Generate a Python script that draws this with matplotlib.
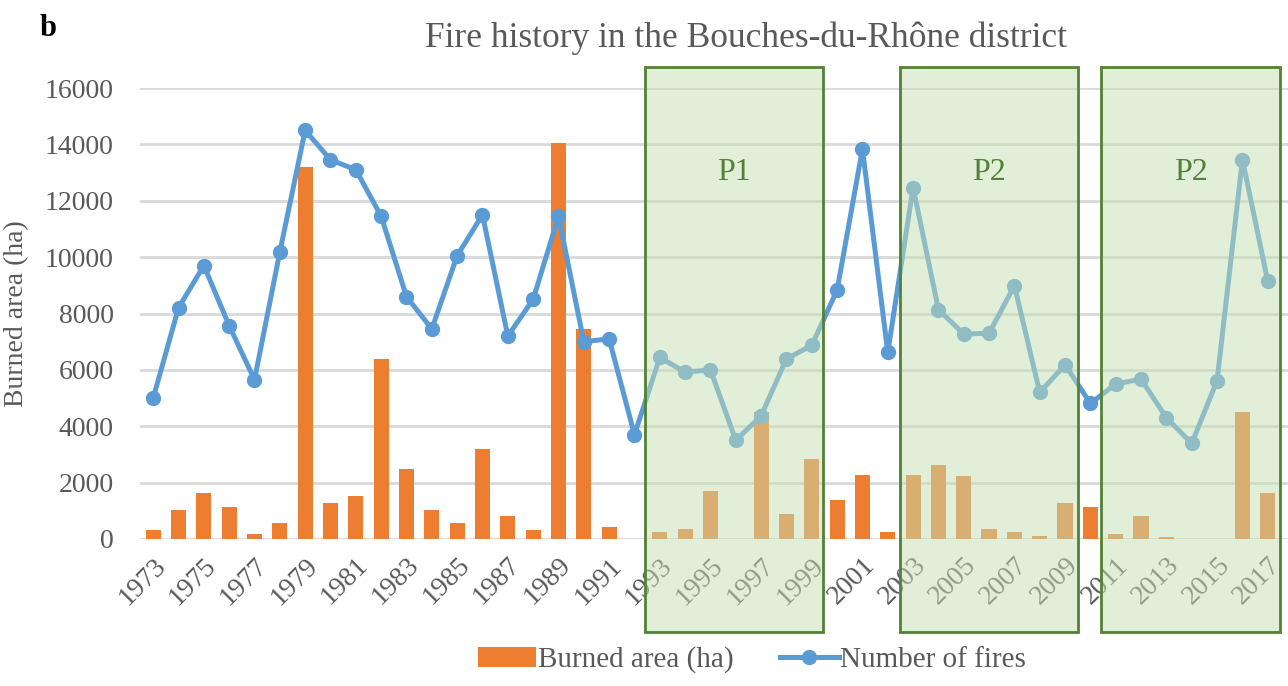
import numpy as np
import matplotlib
matplotlib.use("Agg")
import matplotlib.pyplot as plt
from matplotlib.patches import Rectangle
from matplotlib.lines import Line2D
from matplotlib.patches import Patch

years = list(range(1973, 2018))

burned_area = [
    320, 1030, 1640, 1130, 180, 570, 13180, 1270, 1510, 6380,
    2490, 1030, 570, 3180, 810, 320, 14040, 7450, 440, 0,
    260, 360, 1720, 0, 4510, 870, 2830, 1370, 2280, 260,
    2280, 2640, 2230, 360, 260, 120, 1270, 1130, 180, 810,
    60, 0, 0, 4510, 1630,
]

n_fires = [
    5000, 8200, 9700, 7570, 5650, 10180, 14500, 13450, 13100, 11450,
    8600, 7450, 10050, 11500, 7200, 8500, 11450, 7000, 7100, 3700,
    6440, 5920, 6000, 3500, 4370, 6390, 6870, 8830, 13840, 6620,
    12470, 8140, 7270, 7300, 8990, 5200, 6180, 4810, 5500, 5670,
    4300, 3390, 5620, 13460, 9150,
]

# shaded periods (start year, end year, label)
period_start = [1992.42, 2002.5, 2010.4]
period_end = [1999.45, 2009.5, 2017.5]
period_label = ["P1", "P2", "P2"]

yticks = list(range(0, 16001, 2000))
xtick_years = years[::2]

plt.rcParams["font.family"] = ["Liberation Serif", "DejaVu Serif"]

orange = "#ed7d31"
blue = "#5b9bd5"
gray = "#595959"
dgreen = "#538135"

fig = plt.figure(figsize=(12.88, 6.86), dpi=100)
ax = fig.add_axes([140 / 1288, 1 - 539 / 686, (1288 - 140) / 1288, (539 - 88) / 686])

ax.bar(years, burned_area, width=0.6, color=orange, zorder=2)
ax.plot(years, n_fires, color=blue, lw=3.6, marker="o", ms=10, zorder=3)

ax.set_xlim(1972.48, 2017.8)
ax.set_ylim(0, 16000)
ax.set_yticks(yticks)
ax.set_yticklabels([str(v) for v in yticks], fontsize=20, color=gray)
ax.set_xticks(xtick_years)
ax.set_xticklabels([str(y) for y in xtick_years], rotation=45, ha="right",
                   rotation_mode="anchor", fontsize=20, color=gray)
ax.tick_params(length=0)
ax.tick_params(axis="y", pad=19)
ax.tick_params(axis="x", pad=10)
ax.grid(axis="y", color="#d9d9d9", lw=2)
ax.set_axisbelow(True)
for s in ax.spines.values():
    s.set_visible(False)

ax.set_ylabel("Burned area (ha)", fontsize=20, color=gray)
ax.yaxis.set_label_coords(-0.097, 0.5)

# period boxes drawn on top, spilling out over the tick labels
for x0, x1, lab in zip(period_start, period_end, period_label):
    r = Rectangle((x0, -3300), x1 - x0, 16730 + 3300, facecolor="#c5e0b4",
                  alpha=0.5, edgecolor="none", clip_on=False, zorder=5)
    ax.add_patch(r)
    r2 = Rectangle((x0, -3300), x1 - x0, 16730 + 3300, facecolor="none",
                   edgecolor=dgreen, lw=2, clip_on=False, zorder=6)
    ax.add_patch(r2)
    ax.text((x0 + x1) / 2, 13000, lab, ha="center", va="center",
            fontsize=23, color=dgreen, zorder=7)

fig.text(746 / 1288, 1 - 38 / 686, "Fire history in the Bouches-du-Rhône district",
         ha="center", va="center", fontsize=25.5, color=gray)
fig.text(40 / 1288, 1 - 28 / 686, "b", ha="left", va="center", fontsize=22,
         fontweight="bold", color="black")

handles = [
    Patch(facecolor=orange, edgecolor="none"),
    Line2D([0], [0], color=blue, lw=3.6, marker="o", ms=10),
]
fig.legend(handles, ["Burned area (ha)", "Number of fires"], loc="center",
           bbox_to_anchor=(752 / 1288, 1 - 660 / 686), ncol=2, frameon=False,
           fontsize=21, labelcolor=gray, handlelength=2.0, handletextpad=0.05,
           columnspacing=1.6)

fig.savefig("out.png", dpi=100)
